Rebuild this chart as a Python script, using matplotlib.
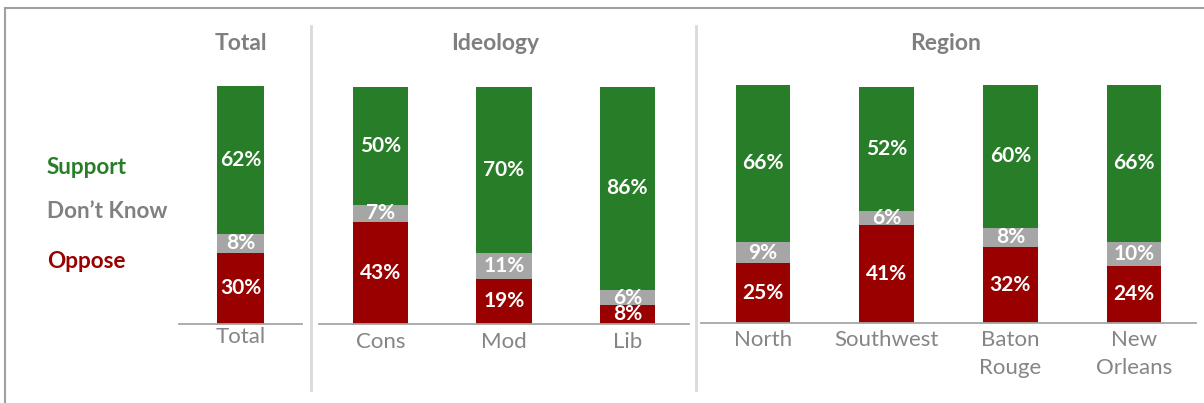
import matplotlib
matplotlib.use("Agg")
import matplotlib.pyplot as plt
from matplotlib.lines import Line2D
import numpy as np

# ---- data ----
groups = ["Total", "Ideology", "Region"]
total_cats = ["Total"]
ideology_cats = ["Cons", "Mod", "Lib"]
region_cats = ["North", "Southwest", "Baton\nRouge", "New\nOrleans"]

oppose_total = [30]
dk_total = [8]
support_total = [62]

oppose_ideology = [43, 19, 8]
dk_ideology = [7, 11, 6]
support_ideology = [50, 70, 86]

oppose_region = [25, 41, 32, 24]
dk_region = [9, 6, 8, 10]
support_region = [66, 52, 60, 66]

series_names = ["Support", "Don\u2019t Know", "Oppose"]

# ---- style ----
plt.rcParams['font.family'] = ['Lato', 'DejaVu Sans']
GREEN = "#287d28"
RED = "#990000"
GRAY = "#a6a6a6"
W, H = 1204, 403

def fx(px):
    return px / W

def fy(py):
    return 1 - py / H

fig = plt.figure(figsize=(W / 100, H / 100), dpi=100)
fig.patch.set_facecolor("white")

panels = [
    (total_cats, oppose_total, dk_total, support_total, (179, 302, 86, 324), 0.39, 2.0),
    (ideology_cats, oppose_ideology, dk_ideology, support_ideology, (319, 689, 86.5, 323.7), 0.45, 6.0),
    (region_cats, oppose_region, dk_region, support_region, (701, 1196, 85, 322.7), 0.44, 5.5),
]

for cats, opp, dk, sup, (l, r, t, b), bw, pad in panels:
    ax = fig.add_axes([fx(l), fy(b), (r - l) / W, (b - t) / H])
    n = len(cats)
    x = np.arange(n)
    opp = np.array(opp)
    dk = np.array(dk)
    sup = np.array(sup)
    c1 = ax.bar(x, opp, bw, color=RED, linewidth=0)
    c2 = ax.bar(x, dk, bw, bottom=opp, color=GRAY, linewidth=0)
    c3 = ax.bar(x, sup, bw, bottom=opp + dk, color=GREEN, linewidth=0)
    for cont, vals in ((c1, opp), (c2, dk), (c3, sup)):
        ax.bar_label(cont, labels=[f"{v}%" for v in vals], label_type='center',
                     color='white', fontsize=15, fontweight='bold')
    ax.set_xlim(-0.5, n - 0.5)
    ax.set_ylim(0, 100)
    for s in ("top", "left", "right"):
        ax.spines[s].set_visible(False)
    ax.spines["bottom"].set_color("#a6a6a6")
    ax.spines["bottom"].set_linewidth(1.3)
    ax.set_yticks([])
    ax.set_xticks(x, cats)
    ax.tick_params(axis='x', length=0, pad=pad, labelsize=16, labelcolor="#858585")
    for lab in ax.get_xticklabels():
        lab.set_linespacing(1.45)
    ax.set_facecolor("none")

# group headers
header_x = [241, 495, 946]
for g, hx in zip(groups, header_x):
    fig.text(fx(hx), fy(44), g, ha='center', va='center', fontsize=16.5,
             fontweight='bold', color="#7f7f7f")

# legend-style labels
legend_y = [167, 212, 262]
legend_colors = [GREEN, "#808080", RED]
for name, ly, lc in zip(series_names, legend_y, legend_colors):
    fig.text(fx(47), fy(ly), name, ha='left', va='center', fontsize=16.2,
             fontweight='bold', color=lc)

# dividers
for dx in (311, 696):
    fig.add_artist(Line2D([fx(dx), fx(dx)], [fy(26), fy(390)], color="#d9d9d9", lw=2))

# outer border (top and left visible)
fig.add_artist(Line2D([fx(5), fx(5)], [fy(8), 0], color="#a0a0a0", lw=1.5))
fig.add_artist(Line2D([fx(5), 1], [fy(8), fy(8)], color="#a0a0a0", lw=1.5))

fig.savefig("out.png", dpi=100)
